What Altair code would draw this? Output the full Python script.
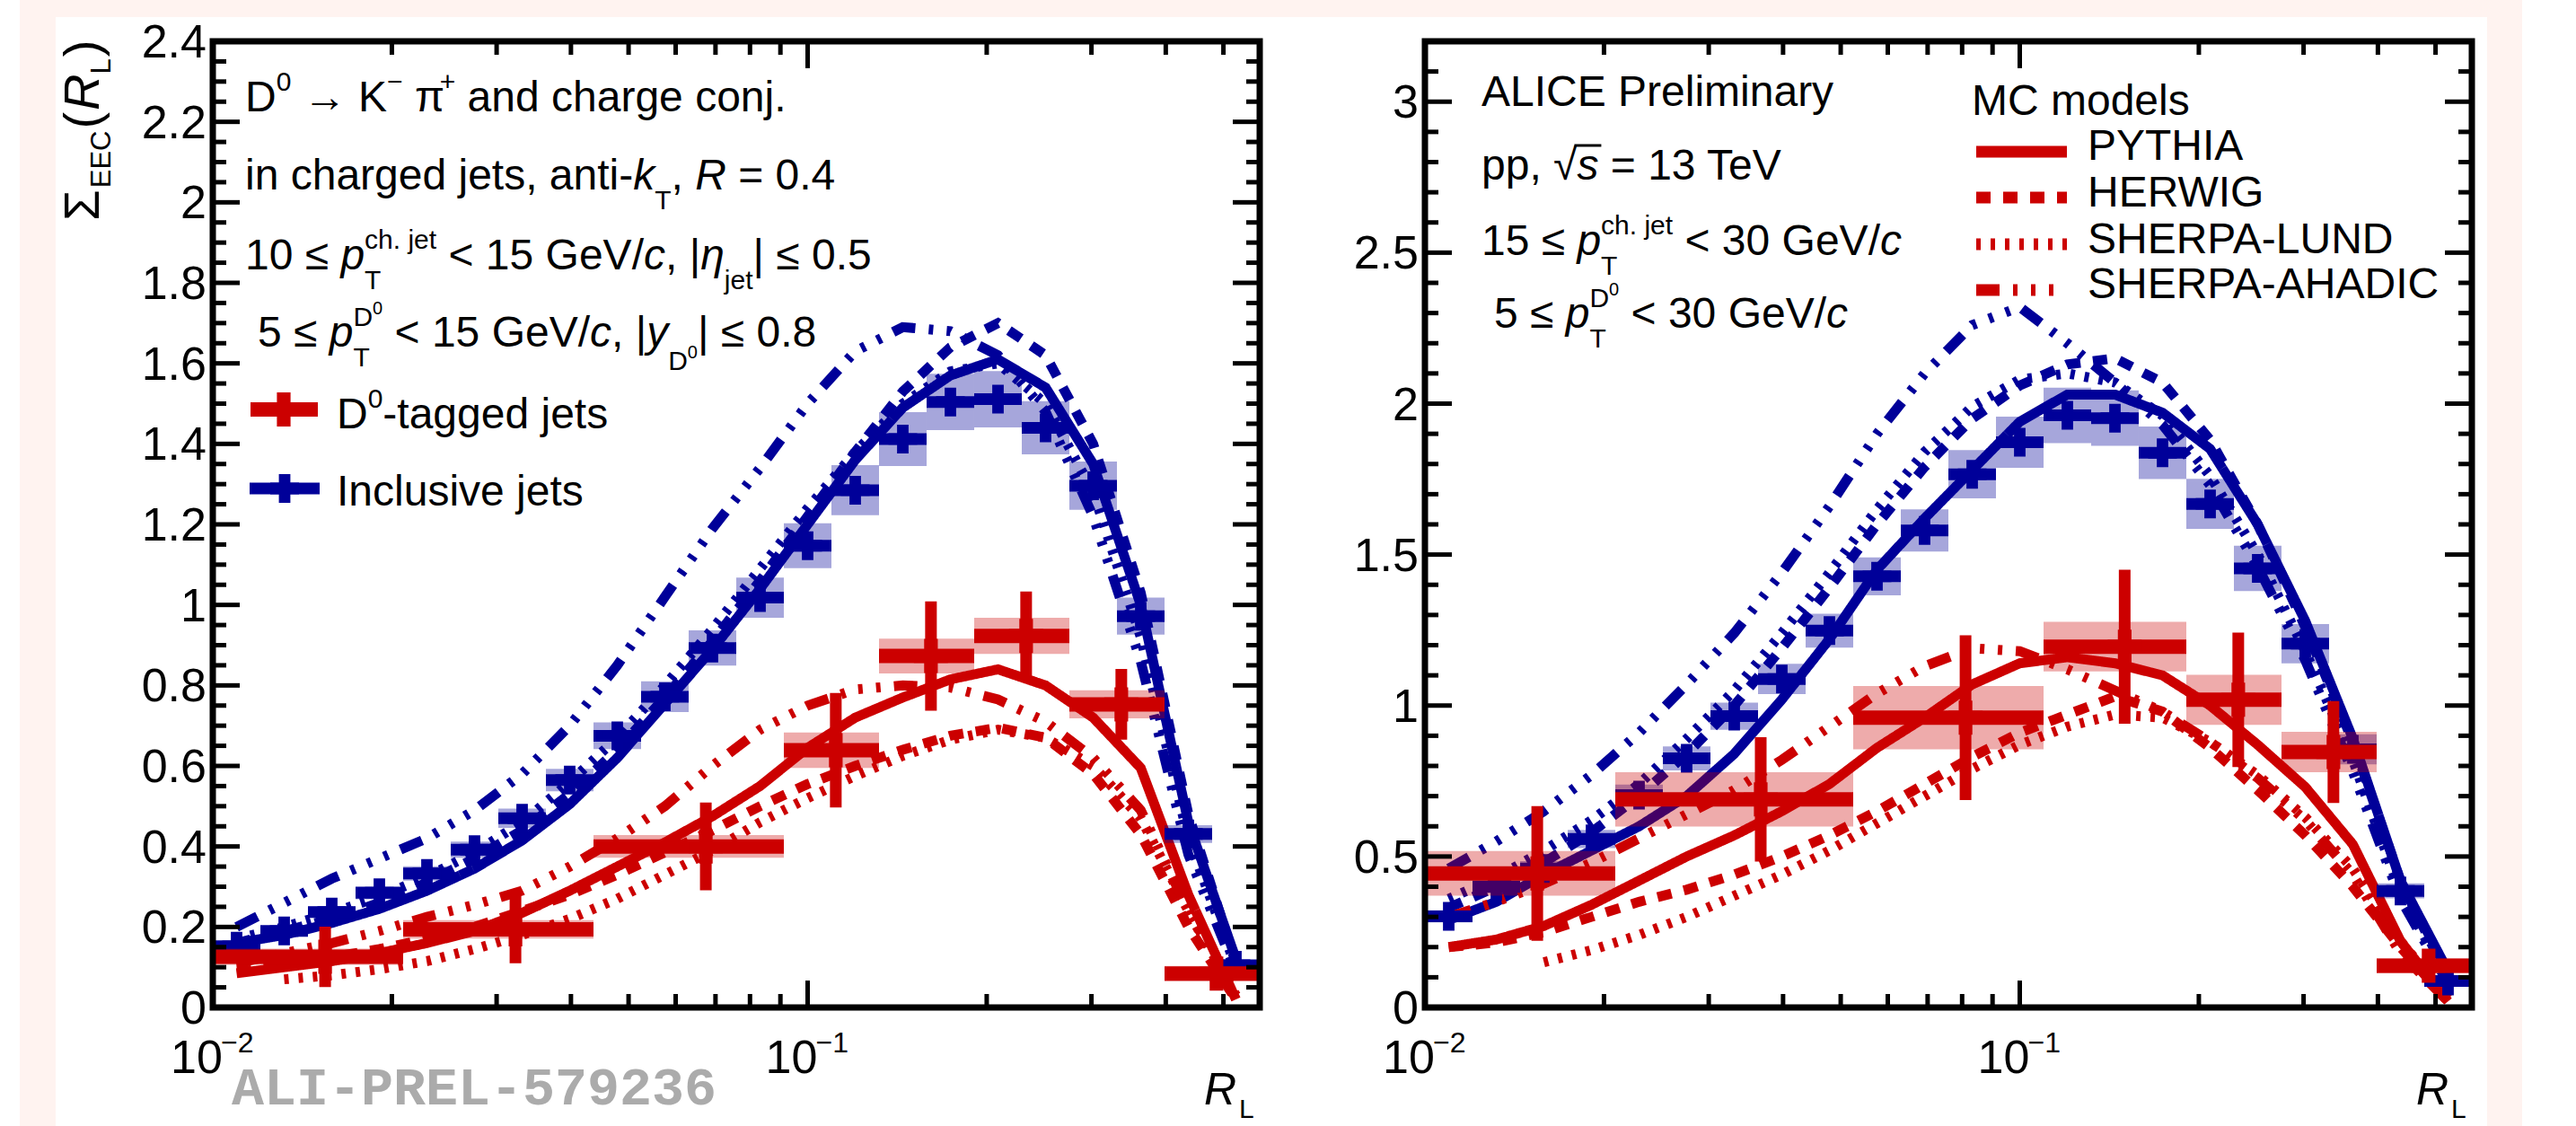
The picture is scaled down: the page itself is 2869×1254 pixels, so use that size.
import altair as alt
import pandas as pd

# ---------------------------------------------------------------------------
# Energy-energy correlator Sigma_EEC(R_L): D0-tagged vs inclusive charged jets
# ---------------------------------------------------------------------------

FONT = "Liberation Sans"
RED = "#CC0000"
BLUE = "#000099"
W, H = 2869, 1254
TOP, BOTTOM = 46, 1122
X_DOMAIN = [0.01, 0.57544]

# 22 logarithmic R_L bins between 0.01 and 0.575
EDGES = [0.01, 0.012023, 0.014454, 0.017378, 0.020893, 0.025119, 0.030200, 0.036308,
         0.043652, 0.052481, 0.063096, 0.075858, 0.091201, 0.109648, 0.131826, 0.158489,
         0.190546, 0.229087, 0.275423, 0.331131, 0.398107, 0.478630, 0.575440]
CENTERS = [0.010965, 0.013183, 0.015849, 0.019055, 0.022909, 0.027542, 0.033113, 0.039811,
           0.047863, 0.057544, 0.069183, 0.083176, 0.100000, 0.120226, 0.144544, 0.173780,
           0.208930, 0.251189, 0.301995, 0.363078, 0.436516, 0.524807]

MODELS = ["PYTHIA", "HERWIG", "SHERPA-LUND", "SHERPA-AHADIC"]
DASHES = [[1, 0], [16, 14], [5, 11], [26, 15, 5, 15, 5, 15, 5, 15]]

# ---- 10 <= pT(jet) < 15 GeV/c -------------------------------------------------
INC_LOW = [0.152, 0.190, 0.237, 0.285, 0.333, 0.392, 0.470, 0.565, 0.675, 0.772, 0.893,
           1.018, 1.147, 1.285, 1.412, 1.504, 1.511, 1.440, 1.296, 0.972, 0.431, 0.105]
INC_LOW_SYS = [0.012, 0.012, 0.014, 0.016, 0.018, 0.020, 0.024, 0.028, 0.033, 0.038, 0.044,
               0.050, 0.056, 0.062, 0.067, 0.070, 0.070, 0.066, 0.060, 0.046, 0.022, 0.010]

D0_LOW_LO = [0.01, 0.020893, 0.043652, 0.091201, 0.131826, 0.190546, 0.275423, 0.398107]
D0_LOW_HI = [0.020893, 0.043652, 0.091201, 0.131826, 0.190546, 0.275423, 0.398107, 0.57544]
D0_LOW_X = [0.015447, 0.032272, 0.067426, 0.111514, 0.161186, 0.232985, 0.336765, 0.486774]
D0_LOW = [0.126, 0.194, 0.400, 0.639, 0.873, 0.923, 0.753, 0.084]
D0_LOW_STAT = [0.075, 0.084, 0.109, 0.142, 0.136, 0.110, 0.088, 0.020]
D0_LOW_SYS = [0.020, 0.023, 0.028, 0.044, 0.043, 0.045, 0.035, 0.019]

MC_INC_LOW = {
    "PYTHIA": [0.16, 0.18, 0.21, 0.245, 0.29, 0.345, 0.415, 0.505, 0.62, 0.755, 0.89,
               1.04, 1.20, 1.36, 1.49, 1.57, 1.61, 1.54, 1.35, 1.00, 0.46, 0.12],
    "HERWIG": [0.16, 0.19, 0.22, 0.26, 0.31, 0.37, 0.44, 0.53, 0.64, 0.77, 0.91,
               1.06, 1.22, 1.38, 1.53, 1.64, 1.70, 1.62, 1.40, 1.03, 0.48, 0.11],
    "SHERPA-LUND": [0.17, 0.20, 0.235, 0.275, 0.325, 0.385, 0.46, 0.56, 0.67, 0.80, 0.94,
                    1.09, 1.24, 1.38, 1.50, 1.58, 1.60, 1.50, 1.28, 0.92, 0.42, 0.10],
    "SHERPA-AHADIC": [0.20, 0.26, 0.32, 0.37, 0.42, 0.49, 0.58, 0.70, 0.85, 1.02, 1.19,
                      1.34, 1.50, 1.63, 1.69, 1.68, 1.62, 1.48, 1.22, 0.86, 0.38, 0.09],
}
MC_D0_LOW = {
    "PYTHIA": [0.085, 0.10, 0.115, 0.135, 0.16, 0.19, 0.235, 0.29, 0.35, 0.41, 0.475,
               0.55, 0.645, 0.72, 0.77, 0.815, 0.84, 0.80, 0.72, 0.595, 0.28, 0.02],
    "HERWIG": [0.10, 0.11, 0.125, 0.145, 0.17, 0.20, 0.24, 0.28, 0.33, 0.385, 0.44,
               0.50, 0.555, 0.60, 0.64, 0.675, 0.695, 0.67, 0.58, 0.43, 0.20, 0.02],
    "SHERPA-LUND": [None, 0.07, 0.08, 0.095, 0.115, 0.145, 0.18, 0.22, 0.27, 0.33, 0.39,
                    0.46, 0.52, 0.575, 0.625, 0.665, 0.69, 0.67, 0.60, 0.47, 0.24, 0.03],
    "SHERPA-AHADIC": [0.11, 0.135, 0.16, 0.19, 0.225, 0.255, 0.29, 0.35, 0.42, 0.50, 0.60,
                      0.69, 0.75, 0.79, 0.80, 0.795, 0.765, 0.71, 0.62, 0.49, 0.24, 0.02],
}

# ---- 15 <= pT(jet) < 30 GeV/c -------------------------------------------------
INC_HIGH = [0.302, 0.400, 0.460, 0.558, 0.703, 0.825, 0.965, 1.088, 1.248, 1.428, 1.580,
            1.766, 1.872, 1.961, 1.952, 1.837, 1.668, 1.454, 1.205, 0.855, 0.386, 0.088]
INC_HIGH_SYS = [0.020, 0.022, 0.025, 0.030, 0.035, 0.040, 0.045, 0.050, 0.056, 0.063, 0.070,
                0.080, 0.085, 0.092, 0.092, 0.087, 0.083, 0.075, 0.065, 0.050, 0.025, 0.010]

D0_HIGH_LO = [0.01, 0.020893, 0.052481, 0.109648, 0.190546, 0.275423, 0.398107]
D0_HIGH_HI = [0.020893, 0.052481, 0.109648, 0.190546, 0.275423, 0.398107, 0.57544]
D0_HIGH_X = [0.015447, 0.036687, 0.081065, 0.150097, 0.232985, 0.336765, 0.486774]
D0_HIGH = [0.444, 0.689, 0.960, 1.195, 1.019, 0.846, 0.138]
D0_HIGH_STAT = [0.223, 0.206, 0.273, 0.255, 0.223, 0.169, 0.030]
D0_HIGH_SYS = [0.074, 0.090, 0.105, 0.082, 0.083, 0.067, 0.025]

MC_INC_HIGH = {
    "PYTHIA": [0.29, 0.35, 0.44, 0.52, 0.60, 0.70, 0.84, 1.02, 1.22, 1.45, 1.62,
               1.78, 1.94, 2.03, 2.03, 1.97, 1.85, 1.60, 1.28, 0.89, 0.42, 0.12],
    "HERWIG": [0.33, 0.40, 0.48, 0.58, 0.70, 0.84, 1.00, 1.19, 1.39, 1.60, 1.79,
               1.95, 2.06, 2.13, 2.15, 2.07, 1.88, 1.60, 1.26, 0.88, 0.42, 0.10],
    "SHERPA-LUND": [0.36, 0.43, 0.52, 0.62, 0.74, 0.89, 1.05, 1.24, 1.44, 1.65, 1.84,
                    1.99, 2.08, 2.10, 2.07, 1.96, 1.76, 1.50, 1.18, 0.82, 0.38, 0.09],
    "SHERPA-AHADIC": [0.46, 0.55, 0.65, 0.77, 0.91, 1.07, 1.24, 1.44, 1.66, 1.90, 2.10,
                      2.26, 2.32, 2.20, 2.07, 1.93, 1.73, 1.46, 1.15, 0.78, 0.36, 0.08],
}
MC_D0_HIGH = {
    "PYTHIA": [0.20, 0.225, 0.27, 0.34, 0.42, 0.50, 0.57, 0.65, 0.74, 0.86, 0.96,
               1.07, 1.14, 1.16, 1.14, 1.10, 1.00, 0.87, 0.73, 0.54, 0.22, 0.02],
    "HERWIG": [0.20, 0.215, 0.25, 0.30, 0.35, 0.39, 0.44, 0.50, 0.57, 0.65, 0.74,
               0.83, 0.91, 0.97, 1.03, 0.98, 0.86, 0.72, 0.57, 0.40, 0.20, 0.02],
    "SHERPA-LUND": [None, None, 0.15, 0.19, 0.24, 0.30, 0.37, 0.44, 0.52, 0.61, 0.70,
                    0.79, 0.87, 0.93, 0.97, 0.96, 0.88, 0.77, 0.63, 0.46, 0.22, 0.03],
    "SHERPA-AHADIC": [0.30, 0.35, 0.41, 0.48, 0.56, 0.64, 0.72, 0.82, 0.93, 1.04, 1.13,
                      1.19, 1.18, 1.12, 1.05, 0.98, 0.88, 0.76, 0.62, 0.44, 0.18, 0.02],
}

# axis ticks
X_MAJOR = [0.01, 0.1]
X_MINOR = [0.02, 0.03, 0.04, 0.05, 0.06, 0.07, 0.08, 0.09, 0.2, 0.3, 0.4, 0.5]
X_LABELS = ["\u22122", "\u22121"]
Y_LOW_MAJOR = [0, 0.2, 0.4, 0.6, 0.8, 1.0, 1.2, 1.4, 1.6, 1.8, 2.0, 2.2, 2.4]
Y_LOW_LABELS = ["0", "0.2", "0.4", "0.6", "0.8", "1", "1.2", "1.4", "1.6", "1.8", "2", "2.2", "2.4"]
Y_HIGH_MAJOR = [0, 0.5, 1.0, 1.5, 2.0, 2.5, 3.0]
Y_HIGH_LABELS = ["0", "0.5", "1", "1.5", "2", "2.5", "3"]
Y_LOW_MINOR = [round(0.05 * i, 2) for i in range(49) if i % 4]
Y_HIGH_MINOR = [round(0.1 * i, 1) for i in range(33) if i % 5]

DASH_SCALE = alt.Scale(domain=MODELS, range=DASHES)
MAJ, MIN, TICKW = 30, 15, 5


def one():
    return pd.DataFrame({"k": [0]})


def panel_layers(x0, x1, ymax, ymajor, ylabels, yminor,
                 inc, inc_sys, d0_lo, d0_hi, d0_x, d0, d0_stat, d0_sys, mc_inc, mc_d0):
    xs = alt.Scale(type="log", domain=X_DOMAIN, range=[x0, x1], nice=False)
    ys = alt.Scale(type="linear", domain=[0, ymax], range=[BOTTOM, TOP], nice=False, zero=False)

    def X(f):
        return alt.X(f"{f}:Q", scale=xs, axis=None)

    def Y(f):
        return alt.Y(f"{f}:Q", scale=ys, axis=None)

    out = []
    # model curves
    for mc, col in ((mc_inc, BLUE), (mc_d0, RED)):
        rows = [dict(R=CENTERS[k], v=v, model=m)
                for m in MODELS for k, v in enumerate(mc[m]) if v is not None]
        out.append(alt.Chart(pd.DataFrame(rows)).mark_line(strokeWidth=11, color=col).encode(
            x=X("R"), y=Y("v"), detail="model:N",
            strokeDash=alt.StrokeDash("model:N", scale=DASH_SCALE, legend=None)))

    # inclusive jets
    inc_df = pd.DataFrame(dict(lo=EDGES[:-1], hi=EDGES[1:], R=CENTERS, v=inc,
                               s0=[v - s for v, s in zip(inc, inc_sys)],
                               s1=[v + s for v, s in zip(inc, inc_sys)]))
    out.append(alt.Chart(inc_df).mark_rect(color=BLUE, opacity=0.35).encode(
        x=X("lo"), x2="hi:Q", y=Y("s0"), y2="s1:Q"))
    out.append(alt.Chart(inc_df).mark_rule(color=BLUE, strokeWidth=13).encode(
        x=X("lo"), x2="hi:Q", y=Y("v")))
    out.append(alt.Chart(inc_df).mark_point(shape="cross", filled=True, size=1024,
                                            color=BLUE, opacity=1).encode(x=X("R"), y=Y("v")))

    # D0-tagged jets
    d0_df = pd.DataFrame(dict(lo=d0_lo, hi=d0_hi, R=d0_x, v=d0,
                              s0=[v - s for v, s in zip(d0, d0_sys)],
                              s1=[v + s for v, s in zip(d0, d0_sys)],
                              e0=[max(v - s, 0) for v, s in zip(d0, d0_stat)],
                              e1=[v + s for v, s in zip(d0, d0_stat)]))
    out.append(alt.Chart(d0_df).mark_rect(color=RED, opacity=0.33).encode(
        x=X("lo"), x2="hi:Q", y=Y("s0"), y2="s1:Q"))
    out.append(alt.Chart(d0_df).mark_rule(color=RED, strokeWidth=16).encode(
        x=X("lo"), x2="hi:Q", y=Y("v")))
    out.append(alt.Chart(d0_df).mark_rule(color=RED, strokeWidth=13).encode(
        x=X("R"), y=Y("e0"), y2="e1:Q"))
    out.append(alt.Chart(d0_df).mark_point(shape="cross", filled=True, size=1444,
                                           color=RED, opacity=1).encode(x=X("R"), y=Y("v")))

    # frame
    out.append(alt.Chart(one()).mark_rect(fill="white", fillOpacity=0, stroke="black",
                                          strokeWidth=7).encode(
        x=alt.value(x0), x2=alt.value(x1), y=alt.value(TOP), y2=alt.value(BOTTOM)))

    # y ticks on both sides
    for vals, L in ((ymajor, MAJ), (yminor, MIN)):
        df = pd.DataFrame({"v": vals})
        out.append(alt.Chart(df).mark_rule(color="black", strokeWidth=TICKW).encode(
            y=Y("v"), x=alt.value(x0), x2=alt.value(x0 + L)))
        out.append(alt.Chart(df).mark_rule(color="black", strokeWidth=TICKW).encode(
            y=Y("v"), x=alt.value(x1 - L), x2=alt.value(x1)))
    # x ticks on bottom and top
    for vals, L in ((X_MAJOR, MAJ), (X_MINOR, MIN)):
        df = pd.DataFrame({"R": vals})
        out.append(alt.Chart(df).mark_rule(color="black", strokeWidth=TICKW).encode(
            x=X("R"), y=alt.value(BOTTOM - L), y2=alt.value(BOTTOM)))
        out.append(alt.Chart(df).mark_rule(color="black", strokeWidth=TICKW).encode(
            x=X("R"), y=alt.value(TOP), y2=alt.value(TOP + L)))

    # tick labels
    ylab = pd.DataFrame({"v": ymajor, "lab": ylabels})
    out.append(alt.Chart(ylab).mark_text(align="right", baseline="alphabetic", dy=18,
                                         font=FONT, fontSize=52, color="black").encode(
        y=Y("v"), x=alt.value(x0 - 7), text="lab:N"))
    xlab = pd.DataFrame({"R": X_MAJOR, "base": ["10", "10"], "exp": X_LABELS})
    out.append(alt.Chart(xlab).mark_text(align="left", baseline="alphabetic", dx=-47,
                                         font=FONT, fontSize=52, color="black").encode(
        x=X("R"), y=alt.value(1195), text="base:N"))
    out.append(alt.Chart(xlab).mark_text(align="left", baseline="alphabetic", dx=9,
                                         font=FONT, fontSize=32, color="black").encode(
        x=X("R"), y=alt.value(1172), text="exp:N"))
    return out


# ---------------------------------------------------------------------------
# rich text (sub/superscripts) laid out with Liberation Sans advance widths
# ---------------------------------------------------------------------------
AW = {" ": 278, "!": 278, "(": 333, ")": 333, "+": 584, ",": 278, "-": 333, ".": 278,
      "/": 278, "<": 584, "=": 584, ">": 584, "|": 260, "\u2264": 549, "\u2192": 1000,
      "\u03c0": 580, "\u03b7": 556, "\u221a": 549, "\u2212": 584, "\u03a3": 620}
for ch in "0123456789":
    AW[ch] = 556
AW.update(dict(zip("ABCDEFGHIJKLMNOPQRSTUVWXYZ",
                   [667, 667, 722, 722, 667, 611, 778, 722, 278, 500, 667, 556, 833, 722,
                    778, 667, 778, 722, 667, 611, 722, 667, 944, 667, 667, 611])))
AW.update(dict(zip("abcdefghijklmnopqrstuvwxyz",
                   [556, 556, 500, 556, 556, 278, 556, 556, 222, 222, 500, 222, 833, 556,
                    556, 556, 556, 333, 500, 278, 556, 500, 722, 500, 500, 500])))


def tw(s, size):
    return sum(AW.get(c, 556) for c in s) * size / 1000.0


TEXT_ROWS = []


def put(x, y, t, size, italic=False):
    lead = len(t) - len(t.lstrip(" "))
    body = t.strip(" ")
    if body:
        TEXT_ROWS.append(dict(x=x + tw(" " * lead, size), y=y, text=body, size=size,
                              italic=italic))


def line(x0, y0, items):
    x = x0
    for it in items:
        if it[0] == "stack":
            widths = []
            for seq in it[1:]:
                xx = x
                for (t, ital, size, dy) in seq:
                    put(xx, y0 + dy, t, size, ital)
                    xx += tw(t, size)
                widths.append(xx - x)
            x += max(widths)
        else:
            t, ital, size, dy = it
            put(x, y0 + dy, t, size, ital)
            x += tw(t, size)
    return x


M, S, T2 = 48, 30, 20
SUP_DY, SUB_DY = -23, 22


def n(t):
    return (t, False, M, 0)


def i(t):
    return (t, True, M, 0)


def sup(t):
    return (t, False, S, SUP_DY)


def sub(t):
    return (t, False, S, SUB_DY)


D0_UP = [("D", False, S, SUP_DY), ("0", False, T2, SUP_DY - 13)]
D0_DOWN = [("D", False, S, SUB_DY + 4), ("0", False, T2, SUB_DY - 9)]
PT_JET = ("stack", [sub("T")], [sup("ch. jet")])
PT_D0 = ("stack", [sub("T")], D0_UP)

# left panel annotations
line(273, 124, [n("D"), sup("0"), n(" \u2192 K"), sup("\u2212"), n(" \u03c0"), sup("+"),
                n(" and charge conj.")])
line(273, 211, [n("in charged jets, anti-"), i("k"), sub("T"), n(", "), i("R"), n(" = 0.4")])
line(273, 300, [n("10 \u2264 "), i("p"), PT_JET, n(" < 15 GeV/"), i("c"), n(", |"),
                i("\u03b7"), sub("jet"), n("| \u2264 0.5")])
line(287, 386, [n("5 \u2264 "), i("p"), PT_D0, n(" < 15 GeV/"), i("c"), n(", |"), i("y"),
                D0_DOWN[0], D0_DOWN[1], n("| \u2264 0.8")])
line(375, 477, [n("D"), sup("0"), n("-tagged jets")])
line(375, 563, [n("Inclusive jets")])

# right panel annotations
line(1650, 118, [n("ALICE Preliminary")])
line(1650, 200, [n("pp, "), n("\u221a"), i("s"), n(" = 13 TeV")])
SQRT_X0 = 1650 + tw("pp, \u221a", M)
SQRT_X1 = SQRT_X0 + tw("s", M)
line(1650, 284, [n("15 \u2264 "), i("p"), PT_JET, n(" < 30 GeV/"), i("c")])
line(1664, 365, [n("5 \u2264 "), i("p"), PT_D0, n(" < 30 GeV/"), i("c")])
line(2196, 128, [n("MC models")])
LEGEND_TEXT_Y = [178, 230, 282, 332]
LEGEND_LINE_Y = [169, 220, 272, 323]
for m, yb in zip(MODELS, LEGEND_TEXT_Y):
    line(2325, yb, [n(m)])

# axis titles R_L
for off in (0, 1350):
    put(1341 + off, 1230, "R", 50, True)
    put(1380 + off, 1245, "L", 30, False)

# rotated y title Sigma_EEC(R_L)
TITLE_ROWS = []
yc = 246
for t, ital, size, xb, gap in (("\u03a3", False, 56, 110, 2), ("EEC", False, 31, 123, 2),
                               ("(", False, 56, 110, 2), ("R", True, 56, 110, 0),
                               ("L", False, 31, 123, 2), (")", False, 56, 110, 0)):
    TITLE_ROWS.append(dict(x=xb, y=yc, text=t, size=size, italic=ital))
    yc -= tw(t, size) + gap

# ---------------------------------------------------------------------------
layers = []
layers.append(alt.Chart(one()).mark_rect(color="#FFF3F0").encode(
    x=alt.value(22), x2=alt.value(2809), y=alt.value(0), y2=alt.value(H)))
layers.append(alt.Chart(one()).mark_rect(color="white").encode(
    x=alt.value(62), x2=alt.value(2770), y=alt.value(19), y2=alt.value(H)))

layers += panel_layers(237, 1403, 2.4, Y_LOW_MAJOR, Y_LOW_LABELS, Y_LOW_MINOR,
                       INC_LOW, INC_LOW_SYS, D0_LOW_LO, D0_LOW_HI, D0_LOW_X, D0_LOW,
                       D0_LOW_STAT, D0_LOW_SYS, MC_INC_LOW, MC_D0_LOW)
layers += panel_layers(1587, 2753, 3.2, Y_HIGH_MAJOR, Y_HIGH_LABELS, Y_HIGH_MINOR,
                       INC_HIGH, INC_HIGH_SYS, D0_HIGH_LO, D0_HIGH_HI, D0_HIGH_X, D0_HIGH,
                       D0_HIGH_STAT, D0_HIGH_SYS, MC_INC_HIGH, MC_D0_HIGH)

# legend markers (data legend, left panel)
layers.append(alt.Chart(one()).mark_rule(color=RED, strokeWidth=16).encode(
    x=alt.value(279), x2=alt.value(354), y=alt.value(456)))
layers.append(alt.Chart(one()).mark_point(shape="cross", filled=True, size=1444, color=RED,
                                          opacity=1).encode(x=alt.value(316), y=alt.value(456)))
layers.append(alt.Chart(one()).mark_rule(color=BLUE, strokeWidth=13).encode(
    x=alt.value(278), x2=alt.value(356), y=alt.value(544)))
layers.append(alt.Chart(one()).mark_point(shape="cross", filled=True, size=1024, color=BLUE,
                                          opacity=1).encode(x=alt.value(317), y=alt.value(544)))

# model legend lines (right panel)
leg = pd.DataFrame({"model": MODELS, "y": LEGEND_LINE_Y})
layers.append(alt.Chart(leg).mark_rule(color=RED, strokeWidth=13).encode(
    x=alt.value(2201), x2=alt.value(2302), y=alt.Y("y:Q", scale=None, axis=None),
    strokeDash=alt.StrokeDash("model:N", scale=DASH_SCALE, legend=None)))

# overline of the square root
layers.append(alt.Chart(one()).mark_rule(color="black", strokeWidth=3).encode(
    x=alt.value(SQRT_X0 - 3), x2=alt.value(SQRT_X1 + 3), y=alt.value(200 - 38)))

# text
txt = pd.DataFrame(TEXT_ROWS)
for ital in (False, True):
    sub_df = txt[txt["italic"] == ital]
    layers.append(alt.Chart(sub_df).mark_text(
        align="left", baseline="alphabetic", font=FONT, color="black",
        fontStyle="italic" if ital else "normal").encode(
        x=alt.X("x:Q", scale=None, axis=None), y=alt.Y("y:Q", scale=None, axis=None),
        text="text:N", size=alt.Size("size:Q", scale=None, legend=None)))

ttl = pd.DataFrame(TITLE_ROWS)
for ital in (False, True):
    sub_df = ttl[ttl["italic"] == ital]
    layers.append(alt.Chart(sub_df).mark_text(
        align="left", baseline="alphabetic", font=FONT, color="black", angle=270,
        fontStyle="italic" if ital else "normal").encode(
        x=alt.X("x:Q", scale=None, axis=None), y=alt.Y("y:Q", scale=None, axis=None),
        text="text:N", size=alt.Size("size:Q", scale=None, legend=None)))

# preliminary label
layers.append(alt.Chart(one()).mark_text(
    align="left", baseline="alphabetic", font="Liberation Mono", fontWeight="bold",
    fontSize=60, color="#ABABAB", text="ALI-PREL-579236").encode(
    x=alt.value(258), y=alt.value(1230)))

chart = alt.layer(*layers).resolve_scale(
    x="independent", y="independent", strokeDash="independent"
).properties(
    width=W, height=H, padding=0, background="white",
    autosize=alt.AutoSizeParams(type="none"),
).configure_view(strokeWidth=0)

chart.save("out.html", embed_options={"renderer": "svg", "actions": False})
